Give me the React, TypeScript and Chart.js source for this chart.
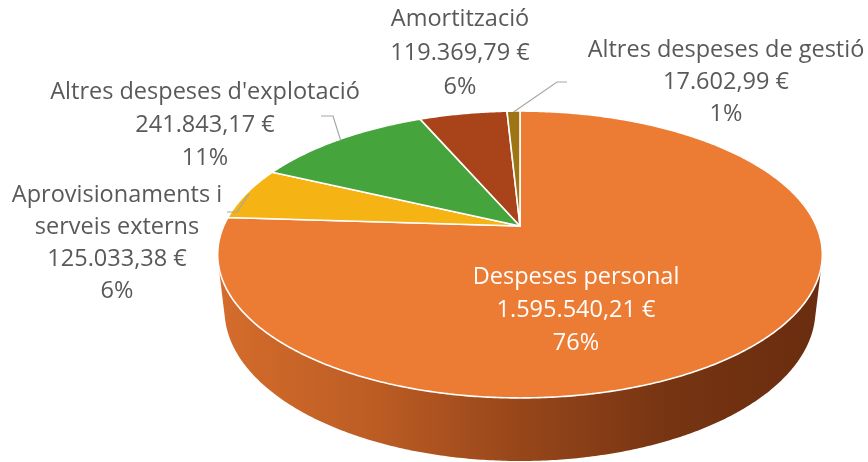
import React, { useEffect, useRef } from 'react';
import { Chart, registerables } from 'chart.js';

Chart.register(...registerables);

// ---------- data ----------
const categories = [
  'Despeses personal',
  'Aprovisionaments i serveis externs',
  "Altres despeses d'explotació",
  'Amortització',
  'Altres despeses de gestió',
];
const categoryLines = [
  ['Despeses personal'],
  ['Aprovisionaments i', 'serveis externs'],
  ["Altres despeses d'explotació"],
  ['Amortització'],
  ['Altres despeses de gestió'],
];
const values = [1595540.21, 125033.38, 241843.17, 119369.79, 17602.99];
const percentLabels = ['76%', '6%', '11%', '6%', '1%'];
const sliceColors = ['#EC7B33', '#F5B314', '#45A43B', '#A9441A', '#9E7414'];

// ---------- style / layout ----------
const FONT = '"Open Sans", sans-serif';
const FONT_SIZE = 23.5;
const LABEL_LAYOUT = [
  { x: 576, y: 277, lh: 33, color: '#FFFFFF', leader: null as null | number[][] },
  { x: 117, y: 195, lh: 32, color: '#595959', leader: [[227, 212], [237, 212]] },
  { x: 205, y: 92, lh: 33, color: '#595959', leader: [[321, 116], [333, 116]] },
  { x: 460, y: 19, lh: 34, color: '#595959', leader: null },
  { x: 726, y: 50, lh: 32, color: '#595959', leader: [[567, 82], [557, 82]] },
];
// camera for the 3D projection (radius = 1 units)
const CAM = { F: 1320, D: 4.455, sinA: 0.465, cosA: 0.885, h: 0.2126 };

function fmtEuro(v: number) {
  const [i, d] = v.toFixed(2).split('.');
  return `${i.replace(/\B(?=(\d{3})+(?!\d))/g, '.')},${d} €`;
}

function hexToRgb(hex: string) {
  const n = parseInt(hex.slice(1), 16);
  return [(n >> 16) & 255, (n >> 8) & 255, n & 255];
}
function shade(hex: string, f: number) {
  const [r, g, b] = hexToRgb(hex);
  return `rgb(${Math.round(r * f)},${Math.round(g * Math.pow(f, 1.25))},${Math.round(b * Math.pow(f, 1.5))})`;
}

function makeProj(cx: number, cy: number) {
  return (theta: number, y: number, r = 1) => {
    const X = r * Math.cos(theta);
    const Z = r * Math.sin(theta);
    const d = CAM.D - y * CAM.sinA - Z * CAM.cosA;
    return [cx + (CAM.F * X) / d, cy - (CAM.F * (y * CAM.cosA - Z * CAM.sinA)) / d];
  };
}

const pie3d = {
  id: 'pie3d',
  beforeDatasetsDraw(chart: any) {
    const ctx: CanvasRenderingContext2D = chart.ctx;
    const arcs = chart.getDatasetMeta(0).data;
    if (!arcs.length) return false;
    const cx = arcs[0].x;
    const cy = arcs[0].y;
    const P = makeProj(cx, cy);
    const bg = chart.data.datasets[0].backgroundColor as string[];
    const step = Math.PI / 360;

    // visible side range
    const k = Math.asin(1 / (CAM.D * CAM.cosA));
    const visA = k;
    const visB = Math.PI - k;
    const left = P(Math.PI, 0)[0] - 4;
    const right = P(0, 0)[0] + 4;

    ctx.save();
    arcs.forEach((a: any, i: number) => {
      const lo = Math.max(a.startAngle, visA);
      const hi = Math.min(a.endAngle, visB);
      if (hi <= lo) return;
      const grad = ctx.createLinearGradient(left, 0, right, 0);
      grad.addColorStop(0, shade(bg[i], 0.9));
      grad.addColorStop(0.25, shade(bg[i], 0.8));
      grad.addColorStop(0.5, shade(bg[i], 0.64));
      grad.addColorStop(0.75, shade(bg[i], 0.5));
      grad.addColorStop(1, shade(bg[i], 0.45));
      ctx.beginPath();
      for (let t = lo; t <= hi + 1e-9; t += step) {
        const [x, y] = P(Math.min(t, hi), 0);
        if (t === lo) ctx.moveTo(x, y); else ctx.lineTo(x, y);
      }
      const [hx, hy] = P(hi, 0);
      ctx.lineTo(hx, hy);
      for (let t = hi; t >= lo - 1e-9; t -= step) {
        const [x, y] = P(Math.max(t, lo), -CAM.h);
        ctx.lineTo(x, y);
      }
      const [lx, ly] = P(lo, -CAM.h);
      ctx.lineTo(lx, ly);
      ctx.closePath();
      ctx.fillStyle = grad;
      ctx.fill();
    });

    // top faces
    arcs.forEach((a: any, i: number) => {
      const [ox, oy] = P(0, 0, 0);
      ctx.beginPath();
      ctx.moveTo(ox, oy);
      for (let t = a.startAngle; t < a.endAngle; t += step) {
        const [x, y] = P(t, 0);
        ctx.lineTo(x, y);
      }
      const [ex, ey] = P(a.endAngle, 0);
      ctx.lineTo(ex, ey);
      ctx.closePath();
      ctx.fillStyle = bg[i];
      ctx.fill();
      ctx.lineJoin = 'round';
      ctx.lineWidth = 1.6;
      ctx.strokeStyle = '#FFFFFF';
      ctx.stroke();
    });
    ctx.restore();
    return false;
  },
  afterDraw(chart: any) {
    const ctx: CanvasRenderingContext2D = chart.ctx;
    const arcs = chart.getDatasetMeta(0).data;
    const P = makeProj(arcs[0].x, arcs[0].y);
    ctx.save();
    // leader lines
    arcs.forEach((a: any, i: number) => {
      const L = LABEL_LAYOUT[i];
      if (!L.leader) return;
      const mid = (a.startAngle + a.endAngle) / 2;
      const [ex, ey] = P(mid, 0, 0.99);
      ctx.beginPath();
      ctx.moveTo(L.leader[0][0], L.leader[0][1]);
      ctx.lineTo(L.leader[1][0], L.leader[1][1]);
      ctx.lineTo(ex, ey);
      ctx.strokeStyle = '#A6A6A6';
      ctx.lineWidth = 1.2;
      ctx.stroke();
    });
    // labels
    ctx.font = `${FONT_SIZE}px ${FONT}`;
    ctx.textAlign = 'center';
    ctx.textBaseline = 'middle';
    arcs.forEach((_a: any, i: number) => {
      const L = LABEL_LAYOUT[i];
      const lines = [...categoryLines[i], fmtEuro(values[i]), percentLabels[i]];
      ctx.fillStyle = L.color;
      lines.forEach((s, j) => ctx.fillText(s, L.x, L.y + j * L.lh));
    });
    ctx.restore();
  },
};

export default function App() {
  const ref = useRef<HTMLCanvasElement>(null);
  useEffect(() => {
    document.body.style.margin = '0';
    const chart = new Chart(ref.current!, {
      type: 'pie',
      data: {
        labels: categories,
        datasets: [
          {
            data: values,
            backgroundColor: sliceColors,
            borderColor: '#FFFFFF',
            borderWidth: 1.5,
          },
        ],
      },
      options: {
        animation: false,
        responsive: false,
        devicePixelRatio: 1,
        layout: { padding: { left: 172, right: 0, top: 0, bottom: 10 } },
        plugins: { legend: { display: false }, tooltip: { enabled: false } },
      },
      plugins: [pie3d],
    });
    return () => chart.destroy();
  }, []);
  return (
    <div style={{ width: 868, height: 462, background: '#FFFFFF' }}>
      <canvas ref={ref} width={868} height={462} style={{ display: 'block' }} />
    </div>
  );
}
